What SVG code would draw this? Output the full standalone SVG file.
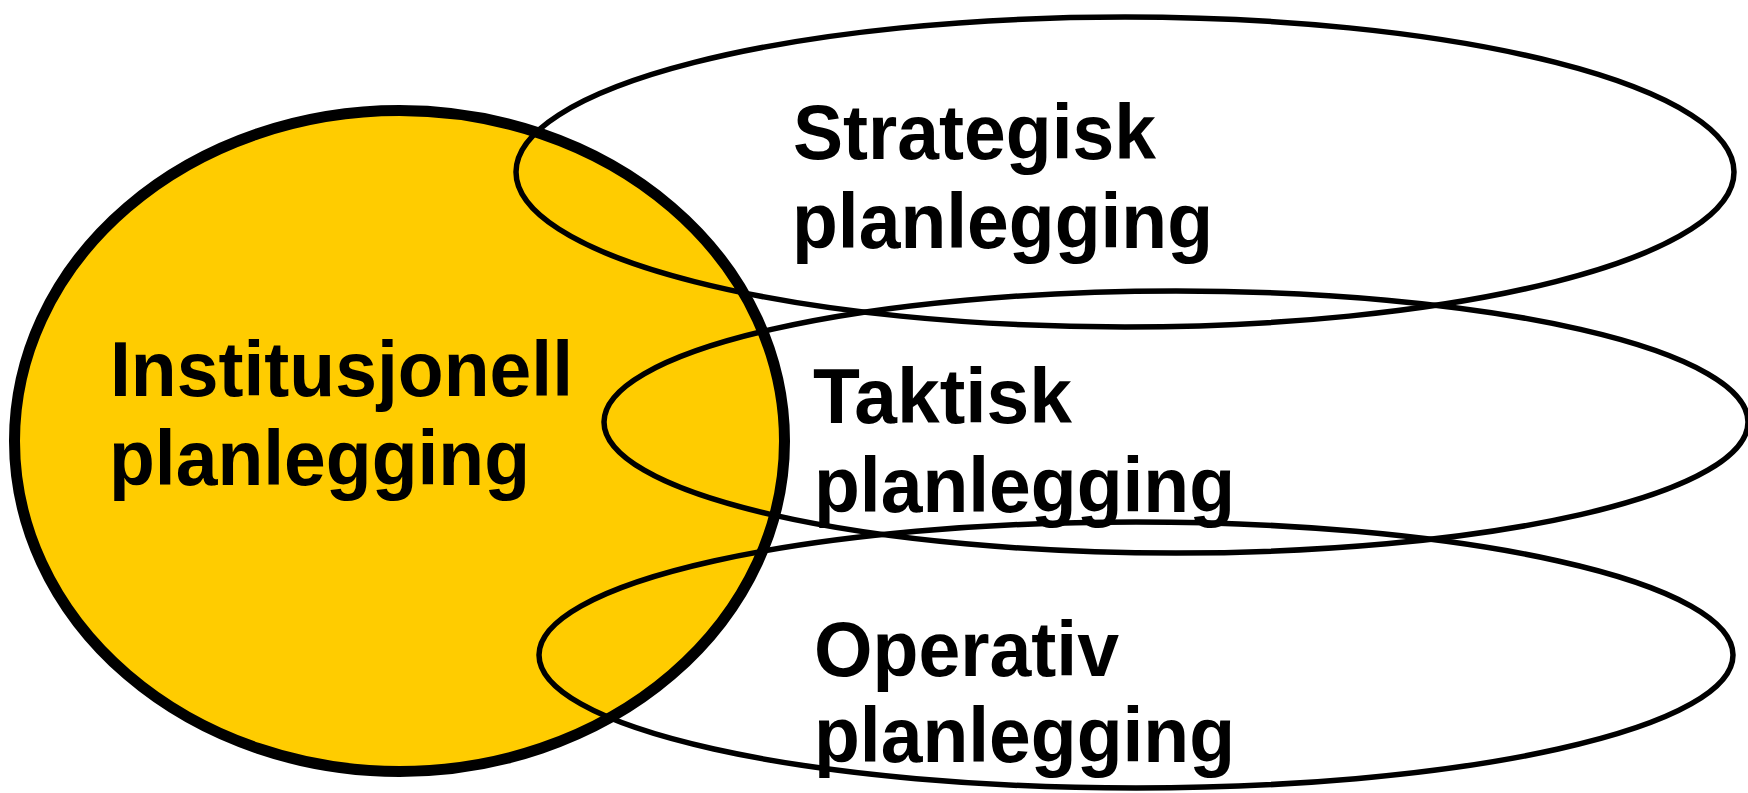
<svg xmlns="http://www.w3.org/2000/svg" width="1748" height="793" viewBox="0 0 1748 793">
<style>
.lbl{font-family:"Liberation Sans",Arial,sans-serif;font-weight:bold;font-size:77px;fill:#000}
.ring{fill:none;stroke:#000;stroke-width:5.5}
</style>
<rect width="1748" height="793" fill="#fff"/>
<g id="institusjonell">
<ellipse cx="399.5" cy="441" rx="385" ry="330.5" fill="#FFCC00" stroke="#000" stroke-width="11"/>
</g>
<g id="strategisk">
<ellipse class="ring" cx="1125" cy="172" rx="609" ry="155"/>
</g>
<g id="taktisk">
<ellipse class="ring" cx="1176" cy="422" rx="572" ry="131"/>
</g>
<g id="operativ">
<ellipse class="ring" cx="1136" cy="655" rx="597" ry="133"/>
</g>
<g id="labels">
<text class="lbl" x="110" y="396" textLength="463" lengthAdjust="spacingAndGlyphs">Institusjonell</text>
<text class="lbl" x="109" y="485" textLength="421" lengthAdjust="spacingAndGlyphs">planlegging</text>
<text class="lbl" x="793" y="159" textLength="363" lengthAdjust="spacingAndGlyphs">Strategisk</text>
<text class="lbl" x="792" y="248" textLength="421" lengthAdjust="spacingAndGlyphs">planlegging</text>
<text class="lbl" x="813" y="423" textLength="259" lengthAdjust="spacingAndGlyphs">Taktisk</text>
<text class="lbl" x="814" y="512" textLength="421" lengthAdjust="spacingAndGlyphs">planlegging</text>
<text class="lbl" x="814" y="676" textLength="305" lengthAdjust="spacingAndGlyphs">Operativ</text>
<text class="lbl" x="814" y="762" textLength="421" lengthAdjust="spacingAndGlyphs">planlegging</text>
</g>
</svg>
